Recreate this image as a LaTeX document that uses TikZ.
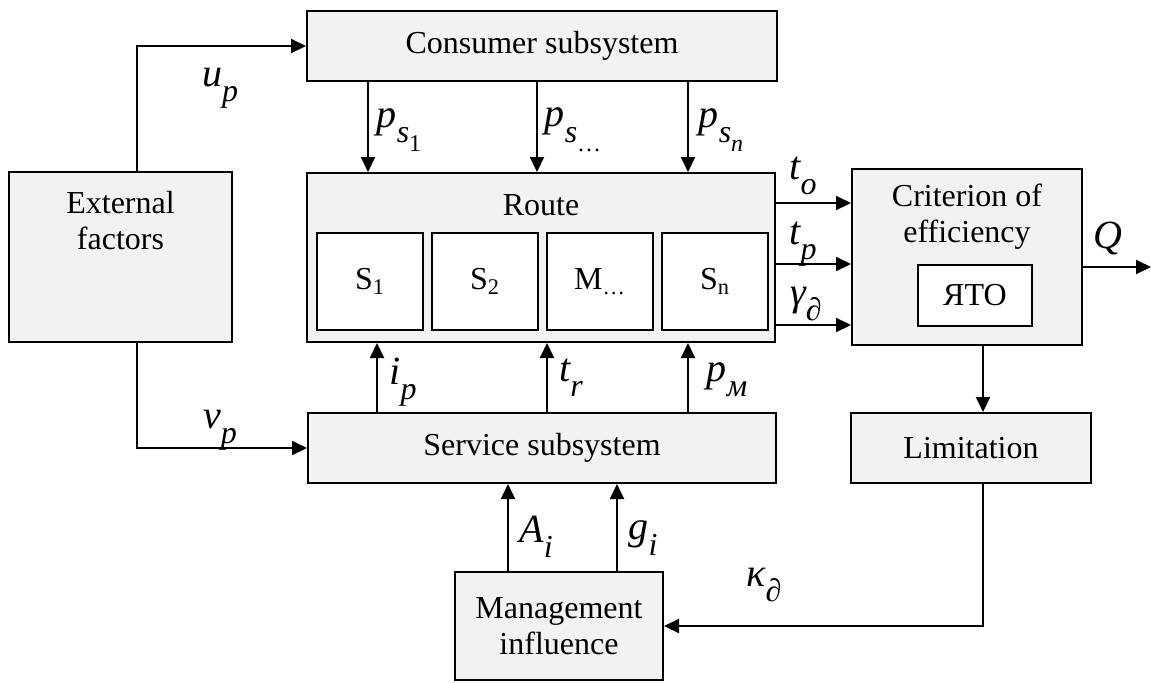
\documentclass[tikz,border=0pt]{standalone}
\usepackage{fontspec}
\setmainfont{Liberation Serif}
\usetikzlibrary{arrows.meta}
\newcommand\mysub[2]{{\itshape #1}\raisebox{-0.38em}{\fontsize{16}{16}\selectfont\itshape #2}}
\newcommand\mysubsub[1]{\raisebox{-0.3em}{\fontsize{12}{12}\selectfont #1}}
\begin{document}
\begin{tikzpicture}[x=0.5pt,y=-0.5pt,
  box/.style={draw=black, line width=1pt, fill=black!5, inner sep=0pt, align=center,
    font=\fontsize{16}{18}\selectfont},
  inbox/.style={draw=black, line width=1pt, fill=white, inner sep=0pt, align=center,
    font=\fontsize{16}{18}\selectfont},
  txt/.style={inner sep=0pt, align=center, font=\fontsize{16}{18}\selectfont},
  lab/.style={inner sep=0pt, font=\fontsize{20}{20}\selectfont},
  arr/.style={line width=1pt, -{Triangle[length=7.5pt,width=7pt]}},
  ln/.style={line width=1pt}]
\useasboundingbox (0,0) rectangle (1151,682);
% boxes
\node[box, minimum width=111.5pt, minimum height=85pt] (ext) at (120.5,257) {};
\node[txt] (extt) at (120.5,221) {External\\factors};
\node[box, minimum width=235pt, minimum height=35pt] (cons) at (542,46) {Consumer subsystem};
\node[box, minimum width=234pt, minimum height=84.5pt] (route) at (541,257.5) {};
\node[txt] (routet) at (541,205) {Route};
\node[inbox, minimum width=53pt, minimum height=48.5pt] (s1) at (370,281.5) {S\textsubscript{1}};
\node[inbox, minimum width=53pt, minimum height=48.5pt] (s2) at (485,281.5) {S\textsubscript{2}};
\node[inbox, minimum width=53pt, minimum height=48.5pt] (m) at (600,281.5) {M\textsubscript{\dots}};
\node[inbox, minimum width=53pt, minimum height=48.5pt] (sn) at (715,281.5) {S\textsubscript{n}};
\node[box, minimum width=115pt, minimum height=88pt] (crit) at (967,257) {};
\node[txt] (critt) at (967,217) {Criterion of\\efficiency};
\node[inbox, minimum width=57pt, minimum height=30.5pt] (yato) at (975,295.5) {ЯТО};
\node[box, minimum width=120pt, minimum height=35pt] (lim) at (971,448) {Limitation};
\node[box, minimum width=234pt, minimum height=35pt] (serv) at (542,448) {Service subsystem};
\node[box, minimum width=104pt, minimum height=54pt] (mgmt) at (559,626) {Management\\influence};
% helper coordinates
\coordinate (xe) at (137,0);
\coordinate (c1) at (368,0);
\coordinate (c2) at (537,0);
\coordinate (c3) at (688,0);
\coordinate (r1) at (0,203);
\coordinate (r2) at (0,264);
\coordinate (r3) at (0,325);
\coordinate (v1) at (377,0);
\coordinate (v2) at (547,0);
\coordinate (v3) at (688,0);
\coordinate (w1) at (508,0);
\coordinate (w2) at (617,0);
\coordinate (xk) at (983,0);
\coordinate (qy) at (0,267);
\coordinate (qend) at (1151,267);
% connectors
\draw[arr] (ext.north -| xe) |- (cons.west);
\draw[arr] (ext.south -| xe) |- (serv.west);
\draw[arr] (cons.south -| c1) -- (route.north -| c1);
\draw[arr] (cons.south -| c2) -- (route.north -| c2);
\draw[arr] (cons.south -| c3) -- (route.north -| c3);
\draw[arr] (route.east |- r1) -- (crit.west |- r1);
\draw[arr] (route.east |- r2) -- (crit.west |- r2);
\draw[arr] (route.east |- r3) -- (crit.west |- r3);
\draw[arr] (serv.north -| v1) -- (route.south -| v1);
\draw[arr] (serv.north -| v2) -- (route.south -| v2);
\draw[arr] (serv.north -| v3) -- (route.south -| v3);
\draw[arr] (mgmt.north -| w1) -- (serv.south -| w1);
\draw[arr] (mgmt.north -| w2) -- (serv.south -| w2);
\draw[arr] (crit.south -| xk) -- (lim.north -| xk);
\draw[arr] (lim.south -| xk) |- (mgmt.east);
\draw[arr] (crit.east |- qy) -- (qend);
% labels
\node[lab] (lup) at (220,88) {\mysub{u}{p}};
\node[lab] (lvp) at (220,430) {\mysub{v}{p}};
\node[lab] (lp1) at (399,130) {\mysub{p}{s\mysubsub{\upshape 1}}};
\node[lab] (lp2) at (573,130) {\mysub{p}{s\mysubsub{\upshape\dots}}};
\node[lab] (lp3) at (721,130) {\mysub{p}{s\mysubsub{\itshape n}}};
\node[lab] (lip) at (403,382) {\mysub{i}{p}};
\node[lab] (ltr) at (571,378) {\mysub{t}{r}};
\node[lab] (lpm) at (727,380) {\mysub{p}{м}};
\node[lab] (lai) at (536,537) {\mysub{A}{i}};
\node[lab] (lgi) at (643,538) {\mysub{g}{i}};
\node[lab] (lk) at (764,585) {\mysub{κ}{∂}};
\node[lab] (lto) at (803,176) {\mysub{t}{o}};
\node[lab] (ltp) at (803,244) {\mysub{t}{p}};
\node[lab] (lgd) at (806,304) {\mysub{γ}{∂}};
\node[lab] (lq) at (1108,238) {\itshape Q};
\end{tikzpicture}
\end{document}
